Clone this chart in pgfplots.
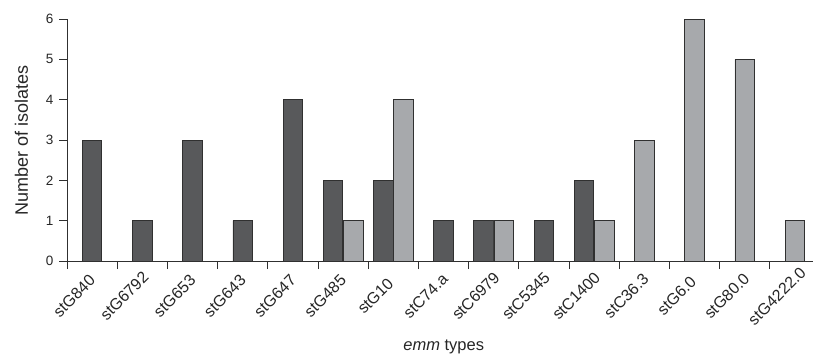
\documentclass[border=0pt]{standalone}
\usepackage{fontspec}
\setmainfont{Liberation Sans}
\usepackage{pgfplots}
\pgfplotsset{compat=1.18}
\definecolor{darkbar}{HTML}{58595B}
\definecolor{lightbar}{HTML}{A7A9AC}
\definecolor{edge}{HTML}{303030}
\begin{document}
\begin{tikzpicture}
\begin{axis}[
  at={(0pt,0pt)}, anchor=south west,
  scale only axis, width=746pt, height=242pt,
  xmin=-0.5, xmax=14.36, ymin=0, ymax=6,
  axis x line=bottom, axis y line=left,
  axis line style={-, draw=edge, line width=0.9pt},
  ytick={0,...,6},
  xtick={-0.5,0.5,...,13.5}, xticklabels={},
  extra x ticks={0,...,14},
  extra x tick labels={stG840,stG6792,stG653,stG643,stG647,stG485,stG10,stC74.a,stC6979,stC5345,stC1400,stC36.3,stG6.0,stG80.0,stG4222.0},
  extra x tick style={major tick length=0pt,
    x tick label style={xshift=-18pt, yshift=-35pt, rotate=45, anchor=center, inner sep=0pt,
      font=\fontsize{16}{16}\selectfont, text=black!85}},
  tick align=outside, major tick length=8pt,
  tick style={draw=edge, line width=0.9pt},
  y tick label style={font=\fontsize{13.5}{13.5}\selectfont, text=black!85, xshift=-2pt},
  /pgf/number format/assume math mode=true,
  every axis y label/.style={at={(axis description cs:0,0.5)}, xshift=-45.5pt, rotate=90, anchor=center, font=\fontsize{18}{18}\selectfont, text=black!85},
  every axis x label/.style={at={(axis description cs:0.505,0)}, yshift=-86pt, anchor=center, font=\fontsize{16.5}{16.5}\selectfont, text=black!85},
  ylabel={Number of isolates},
  xlabel={\textit{emm} types},
]
% dark, single
\addplot[ybar, bar width=0.39, bar shift=0, fill=darkbar, draw=edge, line width=0.8pt]
  coordinates {(0,3) (1,1) (2,3) (3,1) (4,4) (7,1) (9,1)};
% dark, paired
\addplot[ybar, bar width=0.39, bar shift=-0.2, fill=darkbar, draw=edge, line width=0.8pt]
  coordinates {(5,2) (6,2) (8,1) (10,2)};
% light, paired
\addplot[ybar, bar width=0.39, bar shift=0.2, fill=lightbar, draw=edge, line width=0.8pt]
  coordinates {(5,1) (6,4) (8,1) (10,1)};
% light, single
\addplot[ybar, bar width=0.39, bar shift=0, fill=lightbar, draw=edge, line width=0.8pt]
  coordinates {(11,3) (12,6) (13,5) (14,1)};
\end{axis}
\pgfresetboundingbox
\path[use as bounding box] (-67pt,-98pt) rectangle (746pt,261pt);
\end{tikzpicture}
\end{document}
